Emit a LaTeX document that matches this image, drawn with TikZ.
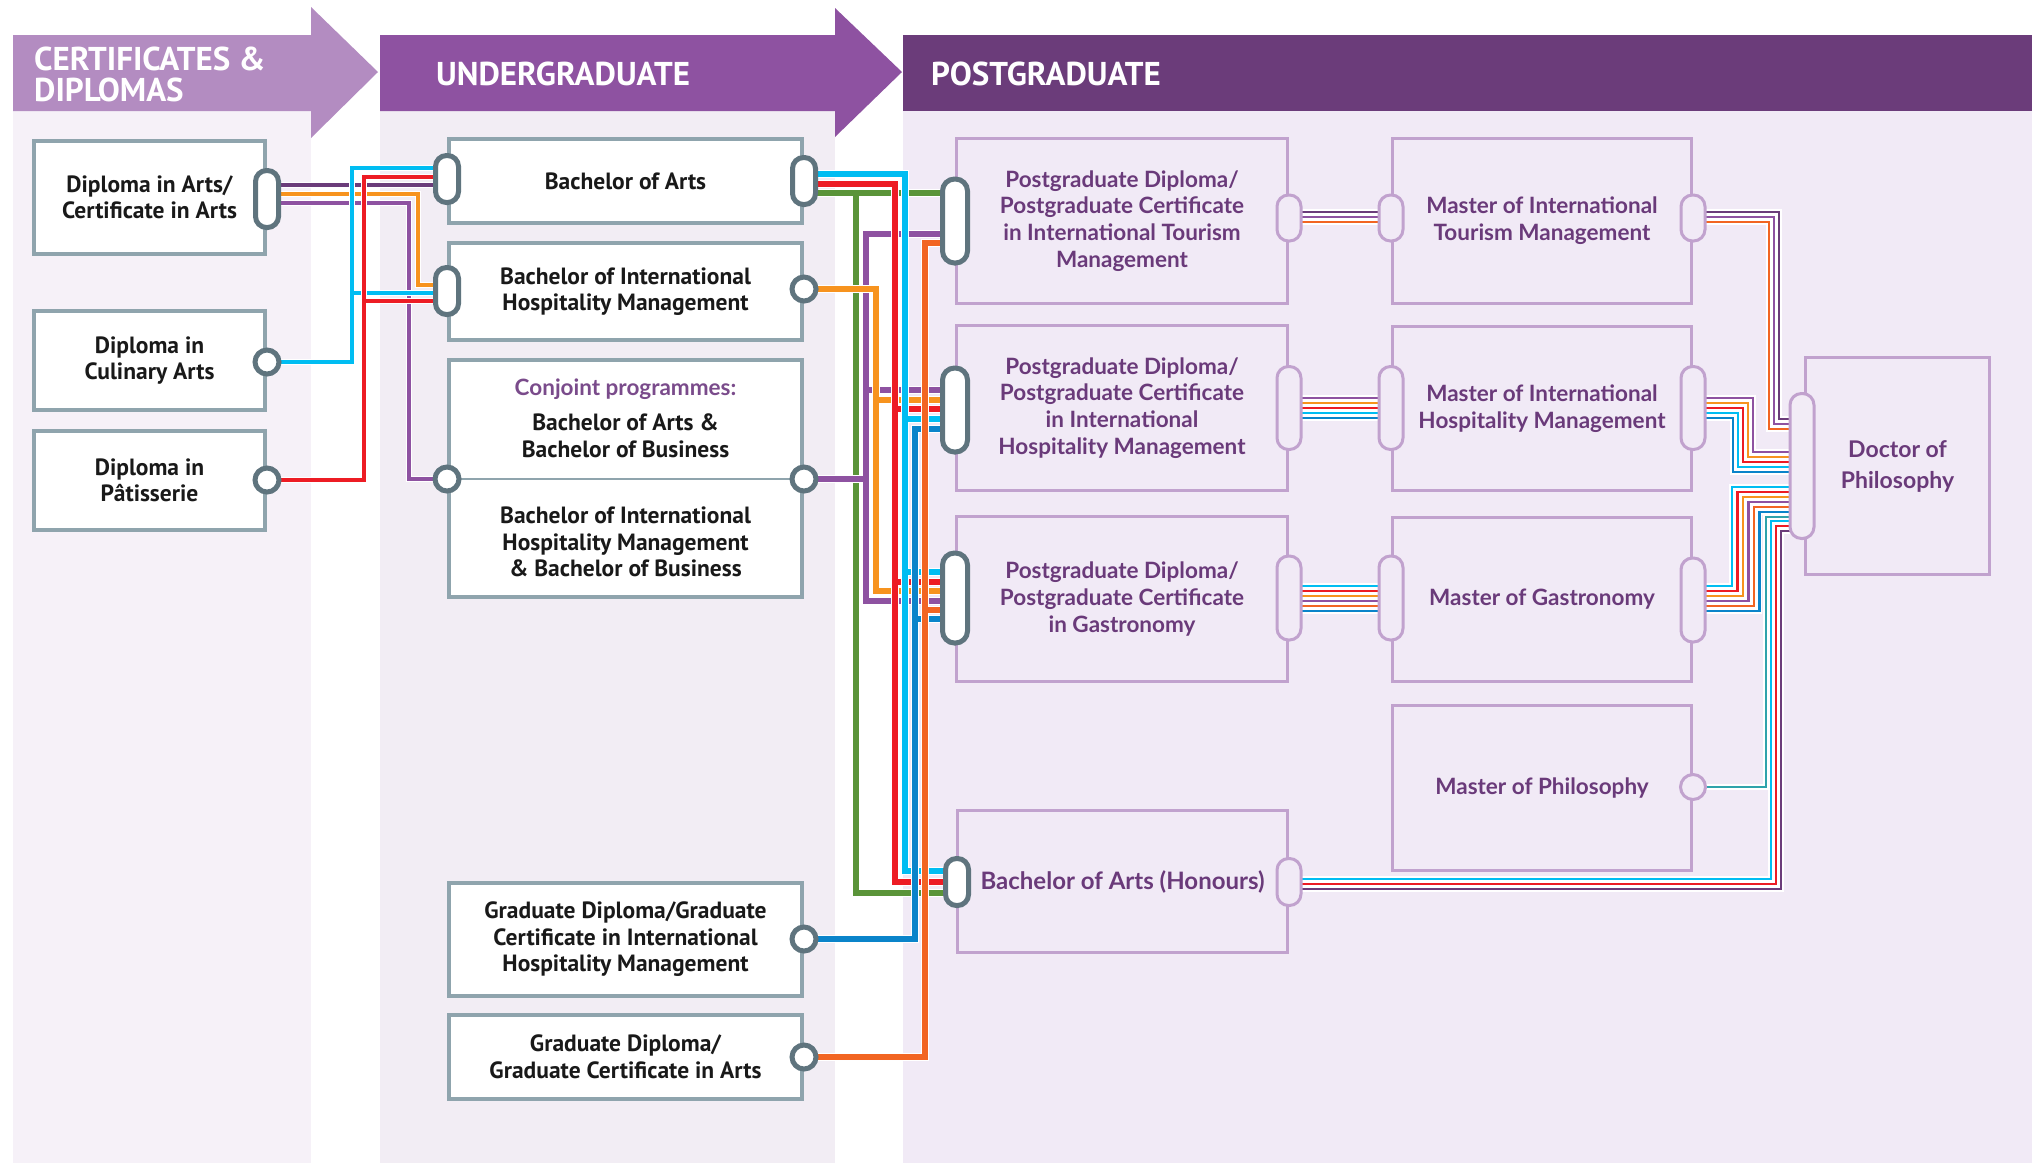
\documentclass[tikz,border=0pt]{standalone}
\usepackage{fontspec}
\setmainfont{PT Sans}
\newfontfamily\plfont{Lato}
\usetikzlibrary{calc}
\pgfdeclarelayer{bg}
\pgfdeclarelayer{lines}
\pgfsetlayers{bg,lines,main}
\definecolor{hda}{HTML}{B38CC1}
\definecolor{hdb}{HTML}{8E52A1}
\definecolor{hdc}{HTML}{6B3C7A}
\definecolor{bga}{HTML}{F6F1F8}
\definecolor{bgb}{HTML}{F2EDF4}
\definecolor{bgc}{HTML}{F1EAF6}
\definecolor{gbord}{HTML}{8FA4AD}
\definecolor{pdark}{HTML}{5F747E}
\definecolor{lbord}{HTML}{C1A2CE}
\definecolor{ptext}{HTML}{6A3A7A}
\definecolor{ctext}{HTML}{7A4B8B}
\definecolor{ccyan}{HTML}{00BDF2}
\definecolor{cred}{HTML}{ED1C24}
\definecolor{cpur}{HTML}{8E52A1}
\definecolor{cdpur}{HTML}{6B3C7A}
\definecolor{corg}{HTML}{F7931E}
\definecolor{cored}{HTML}{F26522}
\definecolor{cgrn}{HTML}{5A9439}
\definecolor{cblu}{HTML}{0A84CA}
\definecolor{cteal}{HTML}{2FA3AB}
\begin{document}
\begin{tikzpicture}[x=1pt,y=-1pt,
  hdtxt/.style={text=white, font=\bfseries\fontsize{33}{31}\selectfont, inner sep=0pt},
  gbox/.style={rectangle, draw=gbord, line width=4.5pt, fill=white, text=black!90, font=\bfseries\fontsize{23.5}{26.5}\selectfont, align=center, inner sep=0pt},
  pbox/.style={rectangle, draw=lbord, line width=3.5pt, fill=bgc, text=ptext, font=\plfont\bfseries\fontsize{22.5}{26.8}\selectfont, align=center, inner sep=0pt},
  gtxt/.style={text=black!90, font=\bfseries\fontsize{23.5}{26.5}\selectfont, align=center, inner sep=0pt},
  dpill/.style={rectangle, draw=pdark, line width=5pt, fill=white, minimum width=23pt, rounded corners=11pt, inner sep=0pt},
  dpillw/.style={rectangle, draw=pdark, line width=5pt, fill=white, minimum width=25pt, rounded corners=12pt, inner sep=0pt},
  dcirc/.style={circle, draw=pdark, line width=5pt, fill=white, minimum size=24pt, inner sep=0pt},
  lpill/.style={rectangle, draw=lbord, line width=3pt, fill=bgc, minimum width=24pt, rounded corners=11.5pt, inner sep=0pt},
  lcirc/.style={circle, draw=lbord, line width=3pt, fill=bgc, minimum size=25pt, inner sep=0pt},
  ka/.style={line width=3.5pt, preaction={draw=white, line width=6.5pt}},
  kb/.style={line width=5.5pt, preaction={draw=white, line width=8.5pt}},
  kc/.style={line width=2.6pt, preaction={draw=white, line width=5.6pt}}
]
\useasboundingbox (0,0) rectangle (2040,1163);

\begin{pgfonlayer}{bg}
\fill[white] (0,0) rectangle (2040,1163);
\fill[bga] (13,111) rectangle (311,1163);
\fill[bgb] (380,111) rectangle (835,1163);
\fill[bgc] (903,111) rectangle (2032,1163);
\fill[hda] (13,35) -- (311,35) -- (311,7) -- (378,72) -- (311,138) -- (311,111) -- (13,111) -- cycle;
\fill[hdb] (380,35) -- (835,35) -- (835,8) -- (902,72) -- (835,137) -- (835,111) -- (380,111) -- cycle;
\fill[hdc] (903,35) rectangle (2032,111);
\node[hdtxt, anchor=west, align=left] (h1) at (34,74) {CERTIFICATES \&\\DIPLOMAS};
\node[hdtxt, anchor=west] (h2) at (436,74) {UNDERGRADUATE};
\node[hdtxt, anchor=west] (h3) at (931,74) {POSTGRADUATE};

% column 1
\node[gbox, minimum width=231pt, minimum height=113pt] (dA) at (149.5,197.5) {Diploma in Arts/\\Certificate in Arts};
\node[gbox, minimum width=231pt, minimum height=99pt] (dC) at (149.5,360.5) {Diploma in\\Culinary Arts};
\node[gbox, minimum width=231pt, minimum height=99pt] (dP) at (149.5,480.5) {Diploma in\\P\^atisserie};
% column 2
\node[gbox, minimum width=353pt, minimum height=84pt] (ba) at (625.5,181) {Bachelor of Arts};
\node[gbox, minimum width=353pt, minimum height=97pt] (bih) at (625.5,291.5) {Bachelor of International\\Hospitality Management};
\node[gbox, minimum width=353pt, minimum height=237pt] (cj) at (625.5,478.5) {};
\draw[gbord, line width=2pt] (cj.west |- 0,479) -- (cj.east |- 0,479);
\node[text=ctext, font=\plfont\bfseries\fontsize{22.5}{26}\selectfont, inner sep=0pt] (cjt) at (625.5,389) {Conjoint programmes:};
\node[gtxt] (cja) at (625.5,436) {Bachelor of Arts \&\\Bachelor of Business};
\node[gtxt] (cjb) at (625.5,542) {Bachelor of International\\Hospitality Management\\\& Bachelor of Business};
\node[gbox, minimum width=353pt, minimum height=113pt] (gdi) at (625.5,939.5) {Graduate Diploma/Graduate\\Certificate in International\\Hospitality Management};
\node[gbox, minimum width=353pt, minimum height=84pt] (gda) at (625.5,1057) {Graduate Diploma/\\Graduate Certificate in Arts};
% column 3
\node[pbox, minimum width=331pt, minimum height=165pt] (pgt) at (1122,221) {Postgraduate Diploma/\\Postgraduate Certificate\\in International Tourism\\Management};
\node[pbox, minimum width=331pt, minimum height=165pt] (pgi) at (1122,408) {Postgraduate Diploma/\\Postgraduate Certificate\\in International\\Hospitality Management};
\node[pbox, minimum width=331pt, minimum height=165pt] (pgg) at (1122,599) {Postgraduate Diploma/\\Postgraduate Certificate\\in Gastronomy};
\node[pbox, minimum width=330pt, minimum height=142pt, font=\plfont\bfseries\fontsize{24}{27}\selectfont] (bah) at (1122.5,881.5) {Bachelor of Arts (Honours)};
\node[pbox, minimum width=299pt, minimum height=165pt] (mt) at (1542,221) {Master of International\\Tourism Management};
\node[pbox, minimum width=299pt, minimum height=164pt] (mi) at (1542,408.5) {Master of International\\Hospitality Management};
\node[pbox, minimum width=299pt, minimum height=164pt] (mg) at (1542,599.5) {Master of Gastronomy};
\node[pbox, minimum width=299pt, minimum height=165pt] (mp) at (1542,788) {Master of Philosophy};
\node[pbox, minimum width=184pt, minimum height=217pt, font=\plfont\bfseries\fontsize{23}{31}\selectfont] (dr) at (1897.5,466) {Doctor of\\Philosophy};
\end{pgfonlayer}

% ports
\node[dpill, minimum height=57pt] (pA) at (267,199) {};
\node[dcirc] (pC) at (267,362) {};
\node[dcirc] (pP) at (267,480) {};
\node[dpill, minimum height=47pt] (baL) at (447,179) {};
\node[dpill, minimum height=47pt] (baR) at (804,181) {};
\node[dpill, minimum height=47pt] (bihL) at (447,291) {};
\node[dcirc] (bihR) at (804,289) {};
\node[dcirc] (cjL) at (447,479) {};
\node[dcirc] (cjR) at (804,479) {};
\node[dcirc] (gdiR) at (804,939) {};
\node[dcirc] (gdaR) at (804,1057) {};
\node[dpillw, minimum height=84pt] (pgtL) at (955,221) {};
\node[dpillw, minimum height=84pt] (pgiL) at (955,410) {};
\node[dpillw, minimum height=90pt] (pggL) at (955,598) {};
\node[dpill, minimum height=47pt] (bahL) at (957,882) {};
\node[lpill, minimum height=46pt] (pgtR) at (1289,218) {};
\node[lpill, minimum height=83pt] (pgiR) at (1289,408) {};
\node[lpill, minimum height=84pt] (pggR) at (1289,598) {};
\node[lpill, minimum height=47pt] (bahR) at (1289,882) {};
\node[lpill, minimum height=46pt] (mtL) at (1391,218) {};
\node[lpill, minimum height=83pt] (miL) at (1391,408) {};
\node[lpill, minimum height=84pt] (mgL) at (1391,598) {};
\node[lpill, minimum height=46pt] (mtR) at (1693,218) {};
\node[lpill, minimum height=83pt] (miR) at (1693,408) {};
\node[lpill, minimum height=84pt] (mgR) at (1693,600) {};
\node[lcirc] (mpR) at (1693,787) {};
\node[lpill, minimum height=145pt, fill=bgc!85!lbord!60!white] (drL) at (1802,466) {};

\begin{pgfonlayer}{lines}
% certificates -> undergraduate
\draw[ka, cpur] ([yshift=-4pt]pA.center) -- ++(142,0) |- (cjL.center);
\draw[ka, cdpur] ([yshift=14pt]pA.center) -- ([yshift=-6pt]baL.center);
\draw[ka, corg] ([yshift=5pt]pA.center) -- ++(151,0) |- ([yshift=6pt]bihL.center);
\draw[ka, ccyan] (pC.center) -- ++(85,0) |- ([yshift=11pt]baL.center)
  (pC.center) -- ++(85,0) |- ([yshift=-2pt]bihL.center);
\draw[ka, cred] (pP.center) -- ++(97,0) |- ([yshift=2pt]baL.center)
  (pP.center) -- ++(97,0) |- ([yshift=-10pt]bihL.center);
% undergraduate -> postgraduate
\draw[kb, cgrn] ([yshift=-12pt]baR.center) -- ([yshift=28pt]pgtL.center)
  ([yshift=-12pt]baR.center) -- ++(52,0) |- ([yshift=-11pt]bahL.center);
\draw[kb, cpur] (cjR.center) -- ++(62,0) |- ([yshift=-13pt]pgtL.center)
  (cjR.center) -- ++(62,0) |- ([yshift=20pt]pgiL.center)
  (cjR.center) -- ++(62,0) |- ([yshift=-3pt]pggL.center);
\draw[kb, corg] (bihR.center) -- ++(72,0) |- ([yshift=10pt]pgiL.center)
  (bihR.center) -- ++(72,0) |- ([yshift=7pt]pggL.center);
\draw[kb, cred] ([yshift=-3pt]baR.center) -- ++(91,0) |- ([yshift=1pt]pgiL.center)
  ([yshift=-3pt]baR.center) -- ++(91,0) |- ([yshift=16pt]pggL.center)
  ([yshift=-3pt]baR.center) -- ++(91,0) |- (bahL.center);
\draw[kb, ccyan] ([yshift=7pt]baR.center) -- ++(101,0) |- ([yshift=-9pt]pgiL.center)
  ([yshift=7pt]baR.center) -- ++(101,0) |- ([yshift=26pt]pggL.center)
  ([yshift=7pt]baR.center) -- ++(101,0) |- ([yshift=11pt]bahL.center);
\draw[kb, cblu] (gdiR.center) -- ++(111,0) |- ([yshift=-19pt]pgiL.center)
  (gdiR.center) -- ++(111,0) |- ([yshift=-21pt]pggL.center);
\draw[kb, cored] (gdaR.center) -- ++(121,0) |- ([yshift=-22pt]pgtL.center)
  (gdaR.center) -- ++(121,0) |- ([yshift=-12pt]pggL.center);
% tourism bundle
\draw[kc, cdpur] ([yshift=6pt]pgtR.center) -- ([yshift=6pt]mtL.center);
\draw[kc, cpur] ([yshift=1pt]pgtR.center) -- ([yshift=1pt]mtL.center);
\draw[kc, cored] ([yshift=-4pt]pgtR.center) -- ([yshift=-4pt]mtL.center);
\draw[kc, cdpur] ([yshift=6pt]mtR.center) -- ++(86,0) |- ([yshift=47pt]drL.center);
\draw[kc, cpur] ([yshift=1pt]mtR.center) -- ++(81,0) |- ([yshift=42pt]drL.center);
\draw[kc, cored] ([yshift=-4pt]mtR.center) -- ++(76,0) |- ([yshift=37pt]drL.center);
% hospitality bundle
\draw[kc, cpur] ([yshift=10pt]pgiR.center) -- ([yshift=10pt]miL.center);
\draw[kc, corg] ([yshift=5pt]pgiR.center) -- ([yshift=5pt]miL.center);
\draw[kc, cred] (pgiR.center) -- (miL.center);
\draw[kc, ccyan] ([yshift=-5pt]pgiR.center) -- ([yshift=-5pt]miL.center);
\draw[kc, cblu] ([yshift=-10pt]pgiR.center) -- ([yshift=-10pt]miL.center);
\draw[kc, cpur] ([yshift=10pt]miR.center) -- ++(60,0) |- ([yshift=14pt]drL.center);
\draw[kc, corg] ([yshift=5pt]miR.center) -- ++(55,0) |- ([yshift=9pt]drL.center);
\draw[kc, cred] (miR.center) -- ++(50,0) |- ([yshift=4pt]drL.center);
\draw[kc, ccyan] ([yshift=-5pt]miR.center) -- ++(45,0) |- ([yshift=-1pt]drL.center);
\draw[kc, cblu] ([yshift=-10pt]miR.center) -- ++(40,0) |- ([yshift=-6pt]drL.center);
% gastronomy bundle
\draw[kc, ccyan] ([yshift=12pt]pggR.center) -- ([yshift=12pt]mgL.center);
\draw[kc, cred] ([yshift=7pt]pggR.center) -- ([yshift=7pt]mgL.center);
\draw[kc, corg] ([yshift=2pt]pggR.center) -- ([yshift=2pt]mgL.center);
\draw[kc, cpur] ([yshift=-3pt]pggR.center) -- ([yshift=-3pt]mgL.center);
\draw[kc, cored] ([yshift=-8pt]pggR.center) -- ([yshift=-8pt]mgL.center);
\draw[kc, cblu] ([yshift=-13pt]pggR.center) -- ([yshift=-13pt]mgL.center);
\draw[kc, ccyan] ([yshift=14pt]mgR.center) -- ++(39,0) |- ([yshift=-21pt]drL.center);
\draw[kc, cred] ([yshift=9pt]mgR.center) -- ++(44.5,0) |- ([yshift=-26pt]drL.center);
\draw[kc, corg] ([yshift=4pt]mgR.center) -- ++(50,0) |- ([yshift=-31pt]drL.center);
\draw[kc, cpur] ([yshift=-1pt]mgR.center) -- ++(55.5,0) |- ([yshift=-36pt]drL.center);
\draw[kc, cored] ([yshift=-6pt]mgR.center) -- ++(61,0) |- ([yshift=-41pt]drL.center);
\draw[kc, cblu] ([yshift=-11pt]mgR.center) -- ++(66.5,0) |- ([yshift=-46pt]drL.center);
% master of philosophy
\draw[kc, cteal] (mpR.center) -- ++(73,0) |- ([yshift=-51pt]drL.center);
% honours bundle
\draw[kc, ccyan] ([yshift=3pt]bahR.center) -- ++(482,0) |- ([yshift=-55pt]drL.center);
\draw[kc, cred] ([yshift=-2pt]bahR.center) -- ++(487,0) |- ([yshift=-60pt]drL.center);
\draw[kc, cdpur] ([yshift=-7pt]bahR.center) -- ++(492,0) |- ([yshift=-65pt]drL.center);
\end{pgfonlayer}
\end{tikzpicture}
\end{document}
